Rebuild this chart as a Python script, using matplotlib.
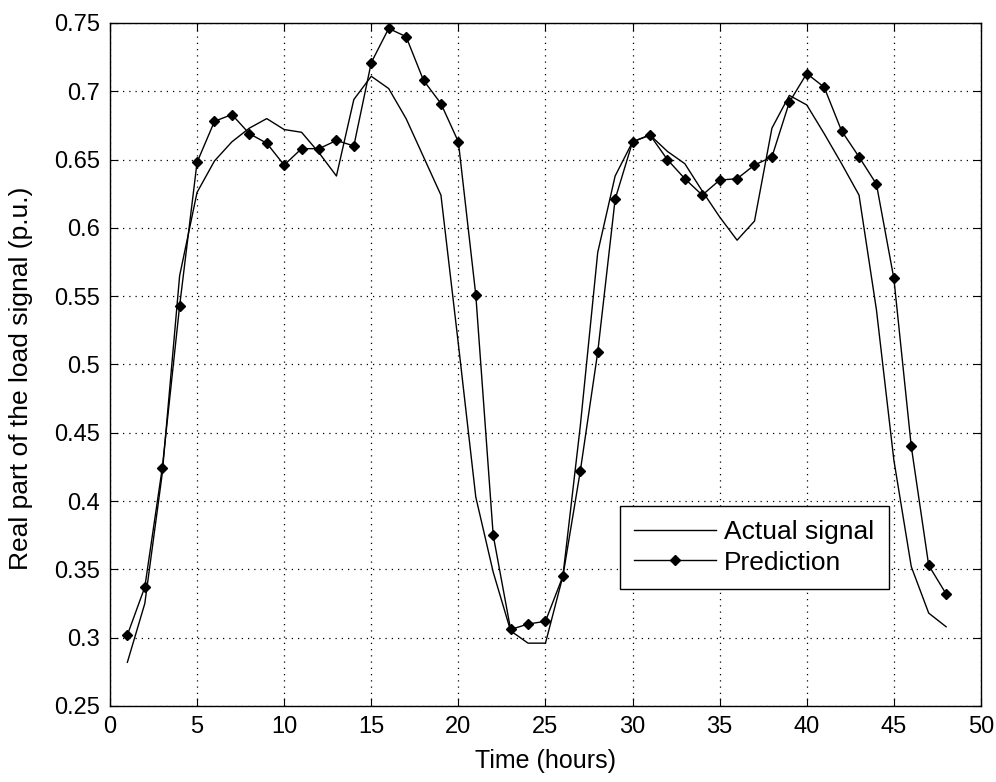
import numpy as np
import matplotlib
matplotlib.use("Agg")
import matplotlib.pyplot as plt

# Time axis (hours)
hours = list(range(1, 49))

# Real part of the load signal (p.u.)
actual = [0.282, 0.325, 0.420, 0.565, 0.626, 0.649, 0.663, 0.673, 0.680, 0.672,
          0.670, 0.655, 0.638, 0.694, 0.711, 0.702, 0.680, 0.652, 0.624, 0.515,
          0.403, 0.348, 0.305, 0.296, 0.296, 0.345, 0.455, 0.582, 0.638, 0.663,
          0.668, 0.656, 0.647, 0.627, 0.608, 0.591, 0.605, 0.673, 0.697, 0.690,
          0.669, 0.647, 0.624, 0.540, 0.430, 0.352, 0.318, 0.308]

prediction = [0.302, 0.337, 0.424, 0.543, 0.648, 0.678, 0.683, 0.669, 0.662, 0.646,
              0.658, 0.658, 0.664, 0.660, 0.721, 0.746, 0.740, 0.708, 0.691, 0.663,
              0.551, 0.375, 0.306, 0.310, 0.312, 0.345, 0.422, 0.509, 0.621, 0.663,
              0.668, 0.650, 0.636, 0.624, 0.635, 0.636, 0.646, 0.652, 0.692, 0.713,
              0.703, 0.671, 0.652, 0.632, 0.563, 0.440, 0.353, 0.332]

x_ticks = [0, 5, 10, 15, 20, 25, 30, 35, 40, 45, 50]
y_ticks = [0.25, 0.3, 0.35, 0.4, 0.45, 0.5, 0.55, 0.6, 0.65, 0.7, 0.75]
y_labels = ["0.25", "0.3", "0.35", "0.4", "0.45", "0.5", "0.55", "0.6", "0.65", "0.7", "0.75"]

plt.rcParams['font.family'] = ['Liberation Sans', 'DejaVu Sans']

fig = plt.figure(figsize=(9.96, 7.82), dpi=100)
ax = fig.add_axes([0.1104, 0.0972, 0.8745, 0.8734])

ax.plot(hours, actual, color='black', linewidth=1.0, label='Actual signal')
ax.plot(hours, prediction, color='black', linewidth=1.0, marker='D', markersize=5.5,
        label='Prediction')

ax.set_xlim(0, 50)
ax.set_ylim(0.25, 0.75)
ax.set_xticks(x_ticks)
ax.set_yticks(y_ticks)
ax.set_yticklabels(y_labels)
ax.tick_params(direction='in', top=True, right=True, length=6, labelsize=17, pad=7)
ax.grid(True, color='black', linestyle=(0, (1, 4)), linewidth=0.9)
for s in ax.spines.values():
    s.set_linewidth(1.0)

ax.set_xlabel("Time (hours)", fontsize=18)
ax.set_ylabel("Real part of the load signal (p.u.)", fontsize=19)
ax.xaxis.set_label_coords(0.5, -0.063)
ax.yaxis.set_label_coords(-0.088, 0.48)

leg = ax.legend(loc='lower left', bbox_to_anchor=(0.5855, 0.171), borderaxespad=0,
                fancybox=False, edgecolor='black', framealpha=1, fontsize=19,
                handlelength=3.1, handletextpad=0.3, borderpad=0.55, labelspacing=0.25)
leg.get_frame().set_linewidth(1.0)

fig.savefig("out.png", dpi=100)
